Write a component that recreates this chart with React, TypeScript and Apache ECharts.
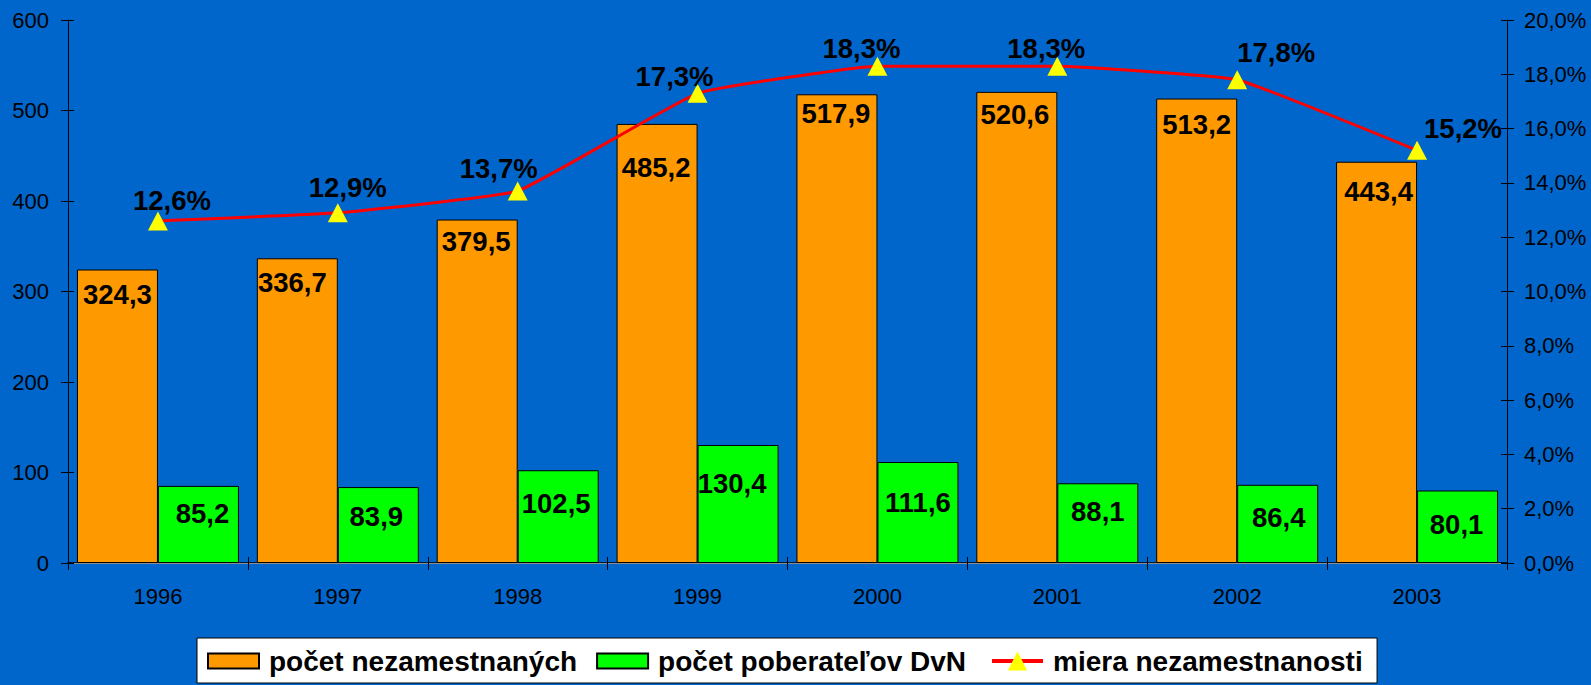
import React, { useEffect, useRef } from "react";
import * as echarts from "echarts";

// ---- data ----
const years = ["1996", "1997", "1998", "1999", "2000", "2001", "2002", "2003"];
const unemployed = [324.3, 336.7, 379.5, 485.2, 517.9, 520.6, 513.2, 443.4];
const recipients = [85.2, 83.9, 102.5, 130.4, 111.6, 88.1, 86.4, 80.1];
const rate = [12.6, 12.9, 13.7, 17.3, 18.3, 18.3, 17.8, 15.2];
const seriesNames = ["počet nezamestnaných", "počet poberateľov DvN", "miera nezamestnanosti"];
const leftAxis = { min: 0, max: 600, interval: 100 };
const rightAxis = { min: 0, max: 20, interval: 2 };

// ---- layout nudges for labels (not data) ----
const rateLabelShift = [[14, -20], [10, -25], [-19, -23], [-23, -17], [-16, -18], [-11, -18], [39, -27], [46, -22]];
const unemployedLabelShift = [[0, 11], [-5, 10], [-1, 8], [-1, 30], [-1, 5], [-2, 9], [0, 12], [2, 16]];
const recipientsLabelShift = [[4, -11], [-2, -9], [-2, -13], [-6, -20], [0, -10], [0, -12], [1, -6], [-1, -2]];

const FONT = "Arial, 'Liberation Sans', sans-serif";
const comma = (v: number, d = 1) => v.toFixed(d).replace(".", ",");

export default function App() {
  const ref = useRef<HTMLDivElement>(null);
  useEffect(() => {
    if (!ref.current) return;
    const chart = echarts.init(ref.current, undefined, { renderer: "svg" });
    const labelBase = { show: true, color: "#000", fontSize: 27.5, fontWeight: "bold", fontFamily: FONT };
    const legendText = { color: "#000", fontSize: 28, fontWeight: "bold", fontFamily: FONT, padding: [0, 0, 0, 5] };
    const option: any = {
      animation: false,
      backgroundColor: "#0066CC",
      textStyle: { fontFamily: FONT },
      grid: { left: 68, right: 84, top: 20, bottom: 122, containLabel: false },
      legend: [
        {
          left: 197,
          top: 638,
          orient: "horizontal",
          backgroundColor: "#ffffff",
          borderColor: "#000000",
          borderWidth: 1,
          borderRadius: 0,
          padding: [9, 411, 8, 10],
          itemWidth: 51,
          itemHeight: 15,
          itemGap: 19,
          textStyle: legendText,
          data: [
            { name: seriesNames[0], icon: "rect" },
            { name: seriesNames[1], icon: "rect" },
          ],
        },
        {
          left: 990,
          top: 647,
          orient: "horizontal",
          padding: 0,
          itemWidth: 51,
          itemHeight: 24,
          textStyle: legendText,
          lineStyle: { width: 4 },
          z: 10,
          data: [{ name: seriesNames[2] }],
        },
      ],
      xAxis: [
        {
          type: "category",
          data: years,
          position: "bottom",
          axisLine: { lineStyle: { color: "#000", width: 1.5 } },
          axisTick: { show: true, length: 7, lineStyle: { color: "#000", width: 1 } },
          axisLabel: { color: "#000", fontSize: 22, margin: 22, fontFamily: FONT },
          splitLine: { show: false },
        },
        {
          type: "category",
          data: years,
          position: "top",
          axisLine: { lineStyle: { color: "#8c8c8c", width: 1 } },
          axisTick: { show: false },
          axisLabel: { show: false },
          splitLine: { show: false },
        },
        {
          type: "category",
          data: years,
          position: "bottom",
          axisLine: { show: false },
          axisTick: { show: true, inside: true, length: 6, lineStyle: { color: "#000", width: 1 } },
          axisLabel: { show: false },
          splitLine: { show: false },
        },
      ],
      yAxis: [
        {
          type: "value",
          position: "left",
          ...leftAxis,
          axisLine: { show: true, lineStyle: { color: "#000", width: 1 } },
          axisTick: { show: true, length: 7, lineStyle: { color: "#000" } },
          axisLabel: { color: "#000", fontSize: 22, margin: 19, fontFamily: FONT },
          splitLine: { show: false },
        },
        {
          type: "value",
          position: "right",
          ...rightAxis,
          axisLine: { show: true, lineStyle: { color: "#000", width: 1 } },
          axisTick: { show: true, length: 7, lineStyle: { color: "#000" } },
          axisLabel: {
            color: "#000",
            fontSize: 22,
            margin: 17,
            fontFamily: FONT,
            formatter: (v: number) => comma(v) + "%",
          },
          splitLine: { show: false },
        },
        {
          type: "value",
          position: "left",
          ...leftAxis,
          axisLine: { show: false },
          axisTick: { show: true, inside: true, length: 6, lineStyle: { color: "#000" } },
          axisLabel: { show: false },
          splitLine: { show: false },
        },
        {
          type: "value",
          position: "right",
          ...rightAxis,
          axisLine: { show: false },
          axisTick: { show: true, inside: true, length: 6, lineStyle: { color: "#000" } },
          axisLabel: { show: false },
          splitLine: { show: false },
        },
      ],
      series: [
        {
          name: seriesNames[0],
          type: "bar",
          xAxisIndex: 0,
          yAxisIndex: 0,
          barWidth: 81,
          barGap: "0%",
          itemStyle: { color: "#FF9900", borderColor: "#000", borderWidth: 1 },
          label: { ...labelBase, position: "insideTop", distance: 0, formatter: (p: any) => comma(p.value) },
          data: unemployed.map((v, i) => ({ value: v, label: { offset: unemployedLabelShift[i] } })),
          z: 2,
        },
        {
          name: seriesNames[1],
          type: "bar",
          xAxisIndex: 0,
          yAxisIndex: 0,
          barWidth: 81,
          barGap: "0%",
          itemStyle: { color: "#00FF00", borderColor: "#000", borderWidth: 1 },
          label: { ...labelBase, position: "inside", formatter: (p: any) => comma(p.value) },
          data: recipients.map((v, i) => ({ value: v, label: { offset: recipientsLabelShift[i] } })),
          z: 2,
        },
        {
          name: seriesNames[2],
          type: "line",
          xAxisIndex: 0,
          yAxisIndex: 1,
          smooth: 0.1,
          symbol: "triangle",
          symbolSize: [20, 19],
          lineStyle: { color: "#FF0000", width: 3 },
          itemStyle: { color: "#FFFF00" },
          label: { ...labelBase, position: "inside", formatter: (p: any) => comma(p.value) + "%" },
          data: rate.map((v, i) => ({ value: v, label: { offset: rateLabelShift[i] } })),
          z: 5,
        },
      ],
    };
    chart.setOption(option);
    return () => chart.dispose();
  }, []);
  return <div ref={ref} style={{ position: "absolute", left: 0, top: 0, width: 1591, height: 685 }} />;
}
